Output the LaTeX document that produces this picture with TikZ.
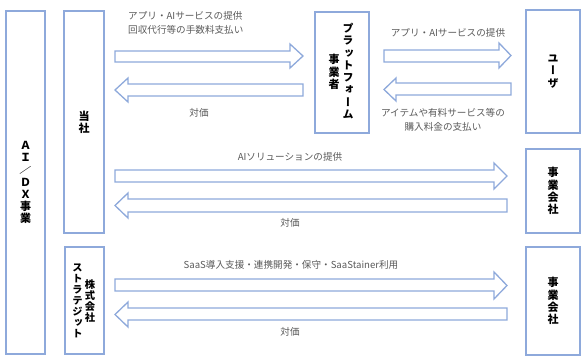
\documentclass[tikz,border=0pt]{standalone}
\usepackage{fontspec}
\usepackage{graphicx}
\setmainfont{Noto Sans CJK JP}
\newfontfamily\jp{Noto Sans CJK JP}
\newfontfamily\jpv[RawFeature=+vert]{Noto Sans CJK JP}
\definecolor{boxblue}{HTML}{8EA9DB}
\definecolor{labelgray}{HTML}{595959}
% right-pointing block arrow: x-start, x-tip, head base, shaft top, shaft bottom, head top, head bottom
\newcommand\rblk[7]{\draw[blockarrow] (#1,#4) -- (#3,#4) -- (#3,#6) -- (#2,{(#6+#7)/2}) -- (#3,#7) -- (#3,#5) -- (#1,#5) -- cycle;}
% left-pointing block arrow: x-tip, x-end, head base, shaft top, shaft bottom, head top, head bottom
\newcommand\lblk[7]{\draw[blockarrow] (#2,#4) -- (#3,#4) -- (#3,#6) -- (#1,{(#6+#7)/2}) -- (#3,#7) -- (#3,#5) -- (#2,#5) -- cycle;}
\begin{document}
\begin{tikzpicture}[x=1pt,y=-1pt,
  box/.style={draw=boxblue, line width=1.3pt, fill=white, inner sep=0pt},
  blockarrow/.style={draw=boxblue, line width=1.3pt, fill=white, line join=miter},
  lbl/.style={text=labelgray, font=\jp\fontsize{9.6}{14}\selectfont, inner sep=0pt},
  vt/.style={font=\jpv\bfseries\fontsize{11}{12.3}\selectfont, align=center, inner sep=0pt},
  vts/.style={font=\jpv\bfseries\fontsize{10.3}{11}\selectfont, align=center, inner sep=0pt}]
\useasboundingbox (0,0) rectangle (587,360);
% boxes
\node[box, minimum width=39pt, minimum height=343pt] (aidx) at (25.5,182.5) {};
\node[box, minimum width=40pt, minimum height=222pt] (tosha) at (84,122) {};
\node[box, minimum width=39pt, minimum height=107pt] (strat) at (84.5,300.5) {};
\node[box, minimum width=54pt, minimum height=121pt] (pf) at (342,72.5) {};
\node[box, minimum width=54pt, minimum height=123pt] (user) at (553,71.5) {};
\node[box, minimum width=54pt, minimum height=84pt] (corp1) at (553,191) {};
\node[box, minimum width=54pt, minimum height=108pt] (corp2) at (553,301) {};
% box texts
\node[vt, font=\jp\bfseries\fontsize{11}{12.3}\selectfont] (taidx) at (aidx.center) {Ａ\\Ｉ\\\scalebox{1.1}[0.75]{／}\\Ｄ\\Ｘ\\事\\業};
\node[vt] (ttosha) at (tosha.center) {当\\社};
\node[vts] (tstrat1) at (90,301) {株\\式\\会\\社};
\node[vts] (tstrat2) at (77.5,300.5) {ス\\ト\\ラ\\テ\\ジ\\ッ\\ト};
\node[vt] (tpf1) at (348,71) {プ\\ラ\\ッ\\ト\\フ\\ォ\\ー\\ム};
\node[vt] (tpf2) at (334,72) {事\\業\\者};
\node[vt] (tuser) at (user.center) {ユ\\ー\\ザ};
\node[vt] (tcorp1) at (corp1.center) {事\\業\\会\\社};
\node[vt] (tcorp2) at (corp2.center) {事\\業\\会\\社};
% block arrows
\rblk{115}{303}{290}{51}{62}{44}{68}
\lblk{115}{303}{128}{84}{96}{78}{102}
\rblk{384}{511}{499}{50}{62}{43}{68}
\lblk{384}{511}{396}{83}{95}{78}{101}
\rblk{115}{507}{494}{170}{182}{163}{189}
\lblk{115}{507}{128}{199}{212}{193}{218}
\rblk{115}{507}{494}{279}{291}{272}{299}
\lblk{115}{507}{128}{308}{320}{302}{327}
% labels
\node[lbl, align=left, anchor=west] (l1) at (128,23) {アプリ・AIサービスの提供\\回収代行等の手数料支払い};
\node[lbl] (l2) at (199,113) {対価};
\node[lbl] (l3) at (448,33) {アプリ・AIサービスの提供};
\node[lbl, align=center] (l4) at (443,120) {アイテムや有料サービス等の\\購入料金の支払い};
\node[lbl] (l5) at (290,157) {AIソリューションの提供};
\node[lbl] (l6) at (290,223) {対価};
\node[lbl] (l7) at (291,265) {SaaS導入支援・連携開発・保守・SaaStainer利用};
\node[lbl] (l8) at (290,332) {対価};
\end{tikzpicture}
\end{document}
